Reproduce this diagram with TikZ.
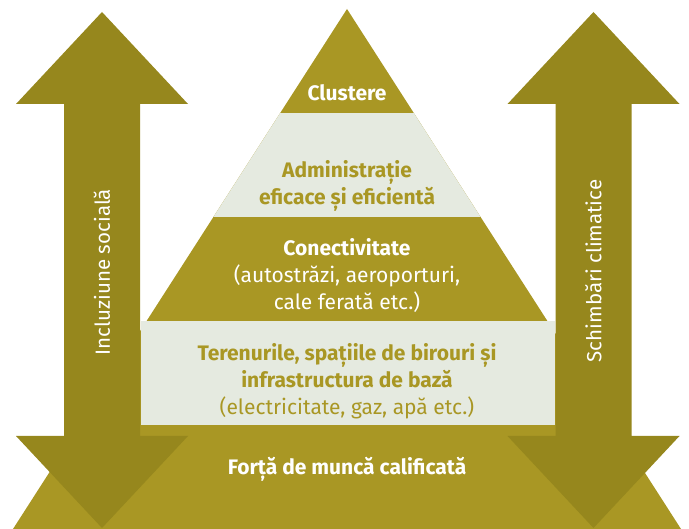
\documentclass[tikz,border=0pt]{standalone}
\usepackage{fontspec}
\setmainfont{Fira Sans}
\usepackage{xcolor}
\usetikzlibrary{positioning}

\definecolor{pyrolive}{HTML}{A99724}
\definecolor{arrowolive}{HTML}{96871D}
\definecolor{lightband}{HTML}{E5EAE0}

\begin{document}
\begin{tikzpicture}[
  x=1pt, y=-1pt,
  band/.style={fill=lightband},
  updown/.style={fill=arrowolive},
  head/.style={font=\bfseries\fontsize{21}{27}\selectfont, align=center},
  sidelabel/.style={font=\fontsize{20.5}{24}\selectfont, text=white, rotate=90}
]
  \useasboundingbox (0,0) rectangle (689,529);

  % pyramid and its bands
  \fill[pyrolive] (347,9) -- (681,529) -- (13,529) -- cycle;
  \begin{scope}
    \clip (347,9) -- (681,529) -- (13,529) -- cycle;
    \fill[band] (0,113) rectangle (689,217);
  \end{scope}
  \fill[band] (141,321) rectangle (555,425);

  % the two side arrows
  \foreach \cx in {102,593.5}
    \fill[updown] (\cx,12) -- ({\cx+86},104) -- ({\cx+38},104) -- ({\cx+38},436)
      -- ({\cx+86},436) -- (\cx,528) -- ({\cx-86},436) -- ({\cx-38},436)
      -- ({\cx-38},104) -- ({\cx-86},104) -- cycle;

  \node[head, text=white] (clusters) at (347,93) {Clustere};
  \node[head, text=pyrolive] (admin) at (347,186) {Administrație\\eficace și eficientă};
  \node[head, text=white] (connect) at (347,276)
    {Conectivitate\\\mdseries(autostrăzi, aeroporturi,\\\mdseries cale ferată etc.)};
  \node[head, text=pyrolive] (land) at (347,381)
    {Terenurile, spațiile de birouri și\\infrastructura de bază\\\mdseries(electricitate, gaz, apă etc.)};
  \node[head, text=white] (labour) at (347,469) {Forță de muncă calificată};

  \node[sidelabel] (social) at (102,272) {Incluziune socială};
  \node[sidelabel] (climate) at (593.5,271) {Schimbări climatice};
\end{tikzpicture}
\end{document}
